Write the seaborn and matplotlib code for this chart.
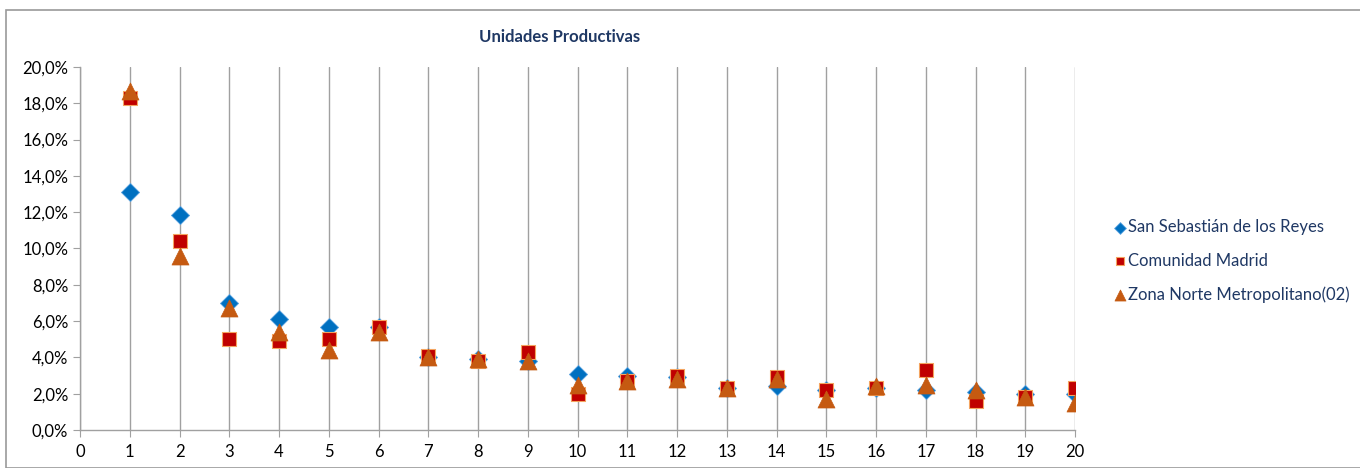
import seaborn as sns
import matplotlib.pyplot as plt
from matplotlib.ticker import FuncFormatter, MultipleLocator
from matplotlib.patches import Rectangle

# datos
rango = list(range(1, 21))
san_sebastian = [13.1, 11.85, 7.0, 6.1, 5.7, 5.7, 4.0, 3.9, 3.8, 3.1,
                 3.0, 2.9, 2.3, 2.4, 2.2, 2.3, 2.2, 2.1, 2.0, 2.0]
comunidad = [18.3, 10.4, 5.0, 4.9, 5.0, 5.7, 4.1, 3.8, 4.3, 2.0,
             2.7, 3.0, 2.3, 2.9, 2.2, 2.3, 3.3, 1.6, 1.8, 2.3]
zona_norte = [18.7, 9.6, 6.7, 5.4, 4.4, 5.4, 4.0, 3.9, 3.8, 2.5,
              2.7, 2.8, 2.3, 2.8, 1.7, 2.4, 2.5, 2.2, 1.8, 1.5]

sns.set_style("white")
plt.rcParams['font.family'] = ['Lato', 'DejaVu Sans']

fig = plt.figure(figsize=(13.6, 4.68), dpi=100)
ax = fig.add_axes([80 / 1360, 1 - 430 / 468, 995 / 1360, 363 / 468])

# marco del gráfico
fig.patches.append(Rectangle((6 / 1360, 0), 1, 1 - 10 / 468, transform=fig.transFigure,
                             fill=False, edgecolor='#9a9a9a', linewidth=1.2))

sns.scatterplot(x=rango, y=san_sebastian, marker='D', s=85, color='#0070C0',
                edgecolor='#5BA3E0', linewidth=0.6, label='San Sebastián de los Reyes',
                ax=ax, zorder=3)
sns.scatterplot(x=rango, y=comunidad, marker='s', s=95, color='#C00000',
                edgecolor='#F4A460', linewidth=0.8, label='Comunidad Madrid',
                ax=ax, zorder=4)
sns.scatterplot(x=rango, y=zona_norte, marker='^', s=150, color='#C55A11',
                edgecolor='#C55A11', linewidth=0.5, label='Zona Norte Metropolitano(02)',
                ax=ax, zorder=5)

ax.set_xlim(0, 20)
ax.set_ylim(0, 20)
ax.xaxis.set_major_locator(MultipleLocator(1))
ax.yaxis.set_major_locator(MultipleLocator(2))
ax.yaxis.set_major_formatter(FuncFormatter(lambda v, p: f"{v:.1f}%".replace('.', ',')))

ax.grid(axis='x', color='#a0a0a0', linewidth=1)
ax.grid(axis='y', visible=False)
ax.set_axisbelow(True)
for side in ['top', 'right']:
    ax.spines[side].set_visible(False)
for side in ['left', 'bottom']:
    ax.spines[side].set_color('#a0a0a0')
    ax.spines[side].set_linewidth(1)
ax.tick_params(axis='both', direction='out', length=5, color='#a0a0a0',
               labelsize=12, labelcolor='#000000', left=True, bottom=True)
ax.tick_params(axis='x', pad=5)

fig.text(560 / 1360, 1 - 37 / 468, 'Unidades Productivas', ha='center', va='center',
         fontsize=12, fontweight='bold', color='#1F3864')

leg = ax.legend(loc='center left', bbox_to_anchor=(1.03, 0.466), frameon=False,
                fontsize=12, handletextpad=0.0, labelspacing=1.05, markerscale=0.65,
                handlelength=1.0, borderaxespad=0)
for t in leg.get_texts():
    t.set_color('#1F3864')

plt.savefig('out.png', dpi=100)
